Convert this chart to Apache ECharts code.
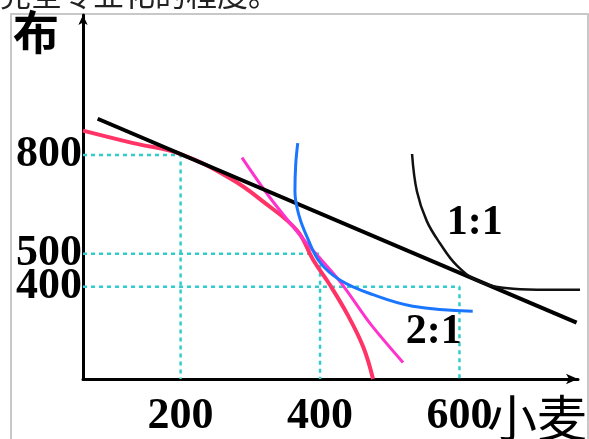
<!DOCTYPE html>
<html>
<head>
<meta charset="utf-8">
<script src="https://cdn.jsdelivr.net/npm/echarts@6/dist/echarts.min.js"></script>
<style>html,body{margin:0;padding:0;background:#fff}#c{width:589px;height:439px}</style>
</head>
<body>
<div id="c"></div>
<script>
// ---- data (wheat on x, cloth on y) ----
const xTicks = [200, 400, 600];
const yTicks = [400, 500, 800];
const xName = '小麦';
const yName = '布';
const headText = '完全专业化的程度。';

const ppfRed = [[60,874],[132,836],[200,803],[275,724],[318,659],[367,571],[390,482],[414,406],[439,317],[462,217],[476,120]];
const trade11 = [[81,910],[768,291]];
const trade21 = [[288,792],[328,671],[381,532],[429,415],[472,288],[519,170]];
const icBlue = [[368,836],[365,768],[364,689],[370,615],[381,553],[400,474],[429,420],[476,376],[533,341],[619,326]];
const ic11 = [[532,803],[539,689],[553,600],[572,532],[596,465],[629,415],[677,394],[725,391],[784,391]];
const guide800 = [[60,800],[200,800],[200,120]];
const guide500 = [[60,500],[400,500],[400,120]];
const guide400 = [[60,400],[600,400],[600,120]];
const ratioLabels = [{name:'1:1', value:[622,594]}, {name:'2:1', value:[563,261]}];

const serif = '"Liberation Serif","DejaVu Serif",serif';
const cjk = '"Noto Sans CJK SC",sans-serif';
const labelStyle = {
  color:'#000', fontFamily: serif, fontWeight:'bold', fontSize:44,
  textShadowColor:'rgba(235,150,40,0.9)', textShadowOffsetX:-2, textShadowOffsetY:0, textShadowBlur:0
};

const yMain = yTicks.filter(v => v !== 400);
const yExtra = yTicks.filter(v => v === 400);

const chart = echarts.init(document.getElementById('c'));
const guide = (d) => ({type:'line', data:d, showSymbol:false, silent:true, z:1,
  lineStyle:{color:'#33cccc', width:2.5, type:[4,4]}});
const yBase = {type:'value', min:120, max:1225, position:'left', offset:0,
  axisTick:{show:false}, splitLine:{show:false}};
chart.setOption({
  animation:false,
  backgroundColor:'#fff',
  grid:{left:83, right:11, top:15, bottom:49},
  xAxis:{type:'value', min:60, max:770,
    axisLine:{show:true, symbol:['none','arrow'], symbolSize:[8,12], lineStyle:{color:'#000', width:3}},
    axisTick:{show:false}, splitLine:{show:false},
    axisLabel:{customValues:xTicks, margin:16, hideOverlap:false, ...labelStyle}},
  yAxis:[
    {...yBase,
      axisLine:{show:true, symbol:['none','arrow'], symbolSize:[7,10], lineStyle:{color:'#000', width:3}},
      axisLabel:{customValues:yMain, margin:1, ...labelStyle}},
    {...yBase, axisLine:{show:false},
      axisLabel:{customValues:yExtra, margin:1, ...labelStyle}}
  ],
  graphic:[
    {type:'rect', shape:{x:11, y:14, width:577, height:440}, style:{fill:'none', stroke:'#c8c8c8', lineWidth:2}, z:-1},
    {type:'text', x:0, y:10, style:{text:headText, font:'31px ' + cjk, fill:'#222', textVerticalAlign:'bottom'}},
    {type:'text', x:13, y:9, style:{text:yName, font:'bold 46px ' + cjk, fill:'#000', textVerticalAlign:'top'}},
    {type:'text', x:487, y:393, style:{text:xName, font:'50px ' + cjk, fill:'#000', textVerticalAlign:'top'}}
  ],
  series:[
    guide(guide800), guide(guide500), guide(guide400),
    {type:'line', data:ppfRed, smooth:0.4, showSymbol:false, z:3, lineStyle:{color:'#ff3366', width:4}},
    {type:'line', data:trade21, smooth:0.3, showSymbol:false, z:4, lineStyle:{color:'#ff33cc', width:3}},
    {type:'line', data:trade11, showSymbol:false, z:5, lineStyle:{color:'#000', width:4}},
    {type:'line', data:icBlue, smooth:0.4, showSymbol:false, z:6, lineStyle:{color:'#1a75ff', width:3}},
    {type:'line', data:ic11, smooth:0.4, showSymbol:false, clip:false, z:6, lineStyle:{color:'#111', width:2.5}},
    {type:'scatter', data:ratioLabels, symbolSize:1, z:7, itemStyle:{opacity:0},
      label:{show:true, position:'inside', formatter:p=>p.name, ...labelStyle, fontSize:42, opacity:1}}
  ]
});
</script>
</body>
</html>
